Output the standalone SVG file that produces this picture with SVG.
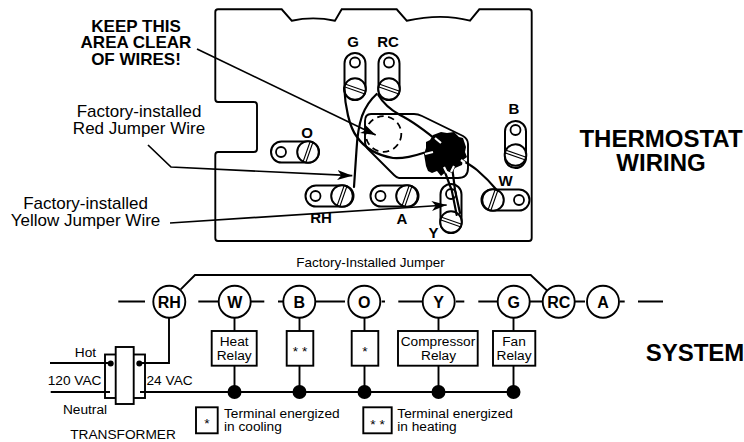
<svg xmlns="http://www.w3.org/2000/svg" width="744" height="442" viewBox="0 0 744 442">
<style>
text{font-family:"Liberation Sans",Arial,sans-serif;fill:#000}
.m{text-anchor:middle}
.t14{font-size:13.7px}
.t17{font-size:17px}
.warn{font-size:17px;font-weight:bold;text-anchor:middle}
.tt{font-size:24px;font-weight:bold;text-anchor:middle}
.lab{font-size:15px;font-weight:bold;text-anchor:middle}
.node{font-size:16px;font-weight:bold;text-anchor:middle}
.ln{fill:none;stroke:#000;stroke-width:1.7}
.l2{fill:none;stroke:#000;stroke-width:1.9}
.w{fill:none;stroke:#000;stroke-width:2.2;stroke-linecap:round}
.slot{fill:#fff;stroke:#000;stroke-width:2}
.hole{fill:#fff;stroke:#000;stroke-width:1.8}
.screw{fill:#fff;stroke:#000;stroke-width:2}
.sl{fill:none;stroke:#000;stroke-width:1.1}
.c{fill:#fff;stroke:#000;stroke-width:1.9}
.box{fill:#fff;stroke:#000;stroke-width:1.9}
.dot{fill:#000}
</style>
<defs>
<marker id="ah" markerUnits="userSpaceOnUse" markerWidth="16" markerHeight="12" refX="15" refY="6" orient="auto"><path d="M0 1L15 6L0 11L4 6Z" fill="#000"/></marker>
</defs>
<g id="board"><path class="l2" d="M218 9.300H281.700L291.700 20.700Q313 16 335 20.700L341.700 9.300H396.700L406.700 20.700Q442 13 470 20.700L479.300 9.300H529Q531.700 9.300 531.700 12V238Q531.700 241 529 241H218Q215.300 241 215.300 238V155Q215.300 152 218 152H254Q257 152 257 149V105Q257 102 254 102H218Q215.300 102 215.300 99V12Q215.300 9.300 218 9.300Z"/></g>
<g id="clear-area"><path class="l2" d="M371 114H414Q418 114 422 116L463 136Q468 139 468 144V168Q468 178 458 178H399Q397 178 394 175L368 149Q365 146 365 142V121Q365 114 371 114Z"/><circle cx="383.500" cy="134" r="17.800" fill="none" stroke="#000" stroke-width="1.8" stroke-dasharray="6.500 4.500"/></g>
<g id="term-G"><rect class="slot" x="344.500" y="53" width="21" height="47" rx="10.500"/><circle class="hole" cx="355" cy="62.500" r="5"/></g>
<g id="term-RC"><rect class="slot" x="378.500" y="53" width="21" height="47" rx="10.500"/><circle class="hole" cx="389" cy="62.500" r="5"/></g>
<g id="term-B"><rect class="slot" x="505" y="121" width="21" height="47" rx="10.500"/><circle class="hole" cx="515.500" cy="130" r="5"/></g>
<g id="term-O"><rect class="slot" x="271" y="141.500" width="48" height="21" rx="10.500"/><circle class="hole" cx="281" cy="152" r="5"/></g>
<g id="term-RH"><rect class="slot" x="305.500" y="185.500" width="48" height="21" rx="10.500"/><circle class="hole" cx="315.500" cy="196" r="5"/></g>
<g id="term-A"><rect class="slot" x="370.500" y="185.500" width="48" height="21" rx="10.500"/><circle class="hole" cx="380.500" cy="196" r="5"/></g>
<g id="term-W"><rect class="slot" x="481.500" y="189.500" width="48" height="21" rx="10.500"/><circle class="hole" cx="519" cy="200" r="5"/></g>
<g id="term-Y"><rect class="slot" x="440.500" y="184" width="21" height="49" rx="10.500"/><circle class="hole" cx="451" cy="194" r="5"/></g>
<g id="screws">
<g transform="translate(355 89)"><circle class="screw" r="10.800"/><path class="sl" d="M-10 -5L10 2M-10 -2L10 5"/></g>
<g transform="translate(389 89)"><circle class="screw" r="10.800"/><path class="sl" d="M-10 -5L10 2M-10 -2L10 5"/></g>
<g transform="translate(515.500 155)"><circle class="screw" r="10.800"/><path class="sl" d="M-10 -5L10 2M-10 -2L10 5"/></g>
<g transform="translate(451 222)"><circle class="screw" r="10.800"/><path class="sl" d="M-10 -5L10 2M-10 -2L10 5"/></g>
<g transform="translate(308 152)"><circle class="screw" r="10.800"/><path class="sl" d="M-5 10L2 -10M-2 10L5 -10"/></g>
<g transform="translate(342 196)"><circle class="screw" r="10.800"/><path class="sl" d="M-5 10L2 -10M-2 10L5 -10"/></g>
<g transform="translate(407 196)"><circle class="screw" r="10.800"/><path class="sl" d="M-5 10L2 -10M-2 10L5 -10"/></g>
<g transform="translate(493 200)"><circle class="screw" r="10.800"/><path class="sl" d="M-5 10L2 -10M-2 10L5 -10"/></g>
</g>
<g id="wire-bundle"><path fill="#000" d="M433 135L441 132L447 133L454 132L459 137L463 138L466 147L465 152L467 157L463 160L462 165L455 168L452 173L447 171L441 176L437 171L432 173L428 171L426 166L425 160L424 154L426 148L426 142L430 140Z"/></g>
<g id="connectors">
<path class="w" d="M344.300 88C345 105 349 127 357 137C364 147 376 155 393 158C404 159 414 156 424 152.700"/>
<path class="w" d="M376.700 94C370 100 365 108 362 116C358 128 357 140 356.500 150L354 187"/>
<path class="w" d="M378.300 95C383 103 391 110 400 115C414 122 428 133 440 143"/>
<path class="w" d="M461.700 160C467 163 472 166 477 170C484 176 491 183 496.700 190"/>
<path class="w" d="M443 167L451.700 190L456.700 215"/>
<path class="w" d="M451.700 164L455 190L460 213"/>
<g stroke="#fff" stroke-width="2.200" fill="none"><path d="M435 138L441 143M425 154L433 152M444 167L447 173M454 166L451 172M461 160L465 163"/></g>
<path class="ln" d="M197 49L375.700 135" marker-end="url(#ah)"/>
<path class="ln" d="M148 145L171 167L352.300 175.700" marker-end="url(#ah)"/>
<path class="ln" d="M170 223L446.700 205" marker-end="url(#ah)"/>
<path class="l2" d="M180.700 289.300L195 275H530.700L547.300 290.700"/>
<path class="l2" d="M118.300 301.500H145M198.300 301.500H219M250.700 301.500H264.300M278 301.500H283M315 301.500H345M381.700 301.500H385M398.300 301.500H422.300M456 301.500H464.300M478.300 301.500H498.300M530 301.500H544M575 301.500H585M620 301.500H624.700M638 301.500H663"/>
<path class="l2" d="M169 317.500V363H137M234.500 317.500V331M234.500 366V392M299.500 317.500V331M299.500 366V392M364.500 317.500V331M364.500 366V392M438.500 317.500V331M438.500 366V392M513.500 317.500V331M513.500 366V392"/>
</g>
<g id="transformer"><rect class="l2" x="105" y="354.500" width="40" height="43.500"/><rect class="box" x="115.700" y="347" width="18" height="57"/><path class="l2" d="M50 363H108M50.700 392H110M140 392H513.500"/><circle class="dot" cx="110.700" cy="363.500" r="3"/><circle class="dot" cx="139.300" cy="363.500" r="3"/></g>
<g id="junctions"><circle class="dot" cx="234.500" cy="392" r="7"/><circle class="dot" cx="299.500" cy="392" r="7"/><circle class="dot" cx="364.500" cy="392" r="7"/><circle class="dot" cx="438.500" cy="392" r="7"/><circle class="dot" cx="513.500" cy="392" r="7"/></g>
<g id="node-RH"><circle class="c" cx="169.300" cy="301.700" r="16"/><text class="node" x="169.300" y="308">RH</text></g>
<g id="node-W"><circle class="c" cx="234.700" cy="301.700" r="16"/><text class="node" x="234.700" y="308">W</text></g>
<g id="node-B"><circle class="c" cx="299.300" cy="301.700" r="16"/><text class="node" x="299.300" y="308">B</text></g>
<g id="node-O"><circle class="c" cx="364.300" cy="301.700" r="16"/><text class="node" x="364.300" y="308">O</text></g>
<g id="node-Y"><circle class="c" cx="438.700" cy="301.700" r="16"/><text class="node" x="438.700" y="308">Y</text></g>
<g id="node-G"><circle class="c" cx="513.700" cy="301.700" r="16"/><text class="node" x="513.700" y="308">G</text></g>
<g id="node-RC"><circle class="c" cx="558.700" cy="301.700" r="16"/><text class="node" x="558.700" y="308">RC</text></g>
<g id="node-A"><circle class="c" cx="603" cy="301.700" r="16"/><text class="node" x="603" y="308">A</text></g>
<g id="relay-heat"><rect class="box" x="211.700" y="331" width="45" height="34.700"/><text class="t14 m" x="234.200" y="345.700">Heat</text><text class="t14 m" x="234.200" y="360">Relay</text></g>
<g id="relay-b"><rect class="box" x="286.700" y="331" width="26.600" height="34.700"/><text class="t14 m" x="300" y="355.500">* *</text></g>
<g id="relay-o"><rect class="box" x="351.700" y="331" width="26.600" height="34.700"/><text class="t14 m" x="365" y="355.500">*</text></g>
<g id="relay-compressor"><rect class="box" x="398" y="331" width="79.700" height="34.700"/><text class="t14 m" x="438" y="345.700">Compressor</text><text class="t14 m" x="438.500" y="360">Relay</text></g>
<g id="relay-fan"><rect class="box" x="493" y="331" width="42.300" height="34.700"/><text class="t14 m" x="514" y="345.700">Fan</text><text class="t14 m" x="514" y="360">Relay</text></g>
<g id="legend-cool"><rect class="box" x="196" y="407.300" width="21.700" height="26"/><text class="t14 m" x="207" y="428">*</text><text class="t14" x="224" y="418.300">Terminal energized</text><text class="t14" x="224" y="431">in cooling</text></g>
<g id="legend-heat"><rect class="box" x="363.300" y="407.300" width="28.400" height="26"/><text class="t14 m" x="377.500" y="428.500">* *</text><text class="t14" x="397.300" y="418.300">Terminal energized</text><text class="t14" x="397.300" y="431">in heating</text></g>
<g id="labels">
<text class="lab" x="353" y="46.700">G</text><text class="lab" x="388" y="46.700">RC</text><text class="lab" x="514" y="113.700">B</text><text class="lab" x="307" y="137.700">O</text><text class="lab" x="321" y="222.700">RH</text><text class="lab" x="402" y="224">A</text><text class="lab" x="433.500" y="238">Y</text><text class="lab" x="505.500" y="186">W</text>
<text class="warn" x="136" y="31.700">KEEP THIS</text><text class="warn" x="136" y="48">AREA CLEAR</text><text class="warn" x="136" y="65">OF WIRES!</text>
<text class="t17 m" x="139" y="116.700">Factory-installed</text><text class="t17 m" x="139" y="134">Red Jumper Wire</text>
<text class="t17 m" x="85.500" y="209">Factory-installed</text><text class="t17 m" x="85.500" y="226">Yellow Jumper Wire</text>
<text class="tt" x="661" y="146.700">THERMOSTAT</text><text class="tt" x="661" y="170.700">WIRING</text><text class="tt" x="695" y="360.700">SYSTEM</text>
<text class="m" style="font-size:13.500px" x="370.500" y="267">Factory-Installed Jumper</text>
<text class="t14 m" x="85.500" y="357">Hot</text><text class="t14" x="47.700" y="385">120 VAC</text><text class="t14" x="146.500" y="385">24 VAC</text><text class="t14 m" x="85" y="414">Neutral</text><text class="t14 m" x="123" y="439">TRANSFORMER</text>
</g>
</svg>
